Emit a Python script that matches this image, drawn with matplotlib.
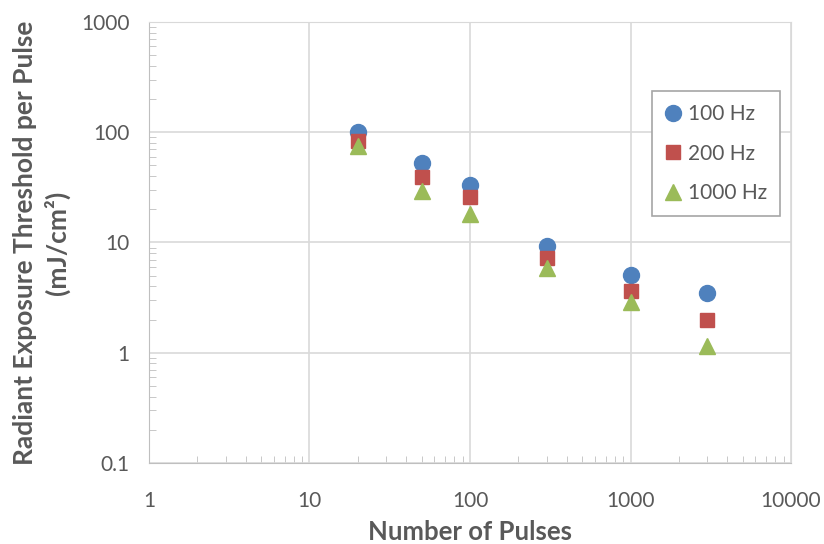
import matplotlib.pyplot as plt
from matplotlib.ticker import FixedLocator, FuncFormatter, LogLocator, NullFormatter

# pulse counts and threshold values (mJ/cm^2) per repetition rate
pulses = [20, 50, 100, 300, 1000, 3000]
thr_100hz = [100, 53, 33, 9.3, 5.1, 3.5]
thr_200hz = [83, 39, 25.6, 7.2, 3.6, 2.0]
thr_1000hz = [75, 29.5, 18, 5.9, 2.9, 1.15]

x_ticks = [1, 10, 100, 1000, 10000]
y_ticks = [0.1, 1, 10, 100, 1000]

plt.rcParams['font.family'] = ['Lato', 'DejaVu Sans']
text_gray = '#595959'
grid_gray = '#D9D9D9'

fig = plt.figure(figsize=(8.24, 5.44), dpi=100)
ax = fig.add_axes([0.1808, 0.1489, 0.7792, 0.8107])

ax.plot(pulses, thr_100hz, 'o', color='#4F81BD', markersize=11.5, label='100 Hz', zorder=3)
ax.plot(pulses, thr_200hz, 's', color='#C0504D', markersize=10.5, label='200 Hz', zorder=4)
ax.plot(pulses, thr_1000hz, '^', color='#9BBB59', markersize=11, label='1000 Hz', zorder=5)

ax.set_xscale('log')
ax.set_yscale('log')
ax.set_xlim(1, 10000)
ax.set_ylim(0.1, 1000)

ax.xaxis.set_major_locator(FixedLocator(x_ticks))
ax.yaxis.set_major_locator(FixedLocator(y_ticks))
ax.xaxis.set_minor_locator(LogLocator(base=10, subs=range(2, 10)))
ax.yaxis.set_minor_locator(LogLocator(base=10, subs=range(2, 10)))
ax.xaxis.set_minor_formatter(NullFormatter())
ax.yaxis.set_minor_formatter(NullFormatter())
fmt = FuncFormatter(lambda v, p: f'{v:g}')
ax.xaxis.set_major_formatter(fmt)
ax.yaxis.set_major_formatter(fmt)

ax.grid(True, which='major', color=grid_gray, linewidth=1.2, zorder=0)
ax.set_axisbelow(True)
for side in ['top', 'right']:
    ax.spines[side].set_color(grid_gray)
for side in ['left', 'bottom']:
    ax.spines[side].set_color('#BFBFBF')

ax.tick_params(which='major', length=0, pad=20, labelsize=15, labelcolor=text_gray)
ax.tick_params(axis='y', which='major', pad=14)
ax.tick_params(which='minor', direction='in', length=5, color='#BFBFBF',
               top=False, right=False)

ax.set_xlabel('Number of Pulses', fontsize=18.5, fontweight='bold', color=text_gray, labelpad=7)
ax.set_ylabel('Radiant Exposure Threshold per Pulse\n(mJ/cm²)', fontsize=19,
              fontweight='bold', color=text_gray, labelpad=8, linespacing=1.3)

leg = ax.legend(loc='upper right', bbox_to_anchor=(0.983, 0.8435), borderaxespad=0,
                fontsize=15, labelcolor=text_gray, fancybox=False, edgecolor='#A6A6A6',
                framealpha=1, handletextpad=0.34, labelspacing=0.95,
                borderpad=0.62, handlelength=0.77)
leg.get_frame().set_linewidth(1.2)

fig.savefig('out.png', dpi=100)
